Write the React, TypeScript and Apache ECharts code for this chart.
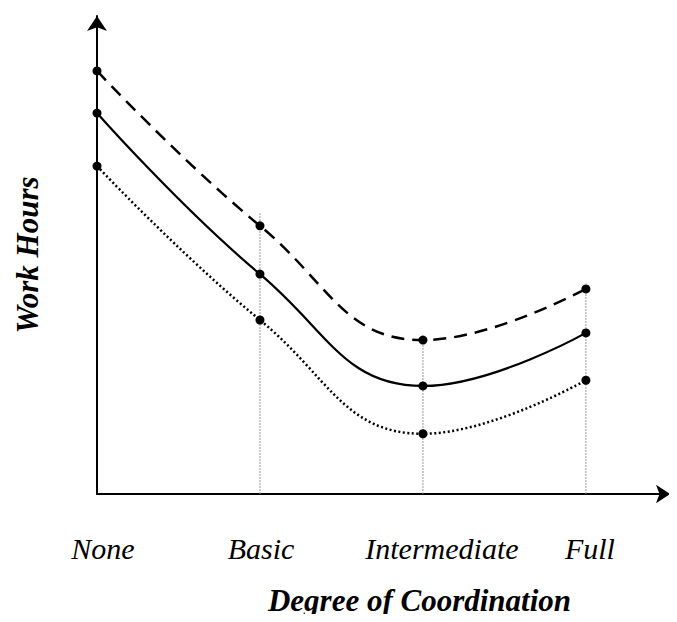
import React, { useEffect, useRef } from "react";
import * as echarts from "echarts";

const categories = ["None", "Basic", "Intermediate", "Full"];
const upperHours = [88.5, 56.1, 32.2, 42.9];
const expectedHours = [79.7, 46.0, 22.6, 33.7];
const lowerHours = [68.6, 36.4, 12.6, 23.8];
const guideTops = [null, 59, 32.2, 44.1];

const FONT = "Liberation Serif";

export default function App() {
  const ref = useRef<HTMLDivElement>(null);
  useEffect(() => {
    if (!ref.current) return;
    const chart = echarts.init(ref.current, null, { renderer: "svg" });
    const toPts = (arr: number[]) => arr.map((v, i) => [i, v]);
    const guides = guideTops
      .map((top, i) => (top == null ? null : {
        type: "line",
        name: "guide" + i,
        data: [[i, 0], [i, top]],
        symbol: "none",
        silent: true,
        z: 1,
        lineStyle: { color: "#9a9a9a", width: 1, type: [2, 1] },
      }))
      .filter(Boolean);
    const mk = (name: string, arr: number[], type: any, width: number) => ({
      type: "line",
      name,
      data: toPts(arr),
      smooth: 0.45,
      symbol: "circle",
      symbolSize: 9,
      z: 3,
      itemStyle: { color: "#000" },
      lineStyle: { color: "#000", width, type },
    });
    chart.setOption({
      animation: false,
      backgroundColor: "#fff",
      grid: { left: 97, right: 7, top: 16, bottom: 128, containLabel: false, outerBoundsMode: "none" },
      xAxis: {
        type: "value",
        min: 0,
        max: 3.516,
        interval: 1,
        offset: 5,
        splitLine: { show: false },
        axisTick: { show: false },
        axisLine: {
          show: true,
          lineStyle: { color: "#000", width: 2 },
          symbol: ["none", "arrow"],
          symbolSize: [14, 14],
        },
        axisLabel: {
          margin: 34,
          fontFamily: FONT,
          fontStyle: "italic",
          fontSize: 30,
          color: "#000",
          showMaxLabel: false,
          formatter: (v: number) => {
            const i = Math.round(v);
            if (Math.abs(v - i) > 1e-6 || !categories[i]) return "";
            return `{c${i}|${categories[i]}}`;
          },
          rich: {
            c0: { padding: [0, 0, 0, 12], fontFamily: FONT, fontStyle: "italic", fontSize: 30, color: "#000" },
            c1: { padding: [0, 0, 0, 2], fontFamily: FONT, fontStyle: "italic", fontSize: 30, color: "#000" },
            c2: { padding: [0, 0, 0, 38], fontFamily: FONT, fontStyle: "italic", fontSize: 30, color: "#000" },
            c3: { padding: [0, 0, 0, 8], fontFamily: FONT, fontStyle: "italic", fontSize: 30, color: "#000" },
          },
        },
        name: "Degree of Coordination",
        nameLocation: "middle",
        nameGap: 86,
        nameTextStyle: {
          fontFamily: FONT,
          fontStyle: "italic",
          fontWeight: "bold",
          fontSize: 31,
          color: "#000",
          padding: [0, 0, 0, 72],
        },
      },
      yAxis: {
        type: "value",
        min: 0,
        max: 100,
        splitLine: { show: false },
        axisTick: { show: false },
        axisLabel: { show: false },
        axisLine: {
          show: true,
          lineStyle: { color: "#000", width: 2 },
          symbol: ["none", "arrow"],
          symbolSize: [15, 15],
        },
        name: "Work Hours",
        nameLocation: "middle",
        nameRotate: 90,
        nameGap: 54,
        nameTextStyle: {
          fontFamily: FONT,
          fontStyle: "italic",
          fontWeight: "bold",
          fontSize: 31,
          color: "#000",
        },
      },
      series: [
        ...guides,
        mk("Upper", upperHours, [13, 8], 2.5),
        mk("Expected", expectedHours, "solid", 2.2),
        mk("Lower", lowerHours, [2, 2.5], 2.5),
      ],
    });
    return () => chart.dispose();
  }, []);
  return <div ref={ref} style={{ width: 677, height: 622, margin: -8 }} />;
}
